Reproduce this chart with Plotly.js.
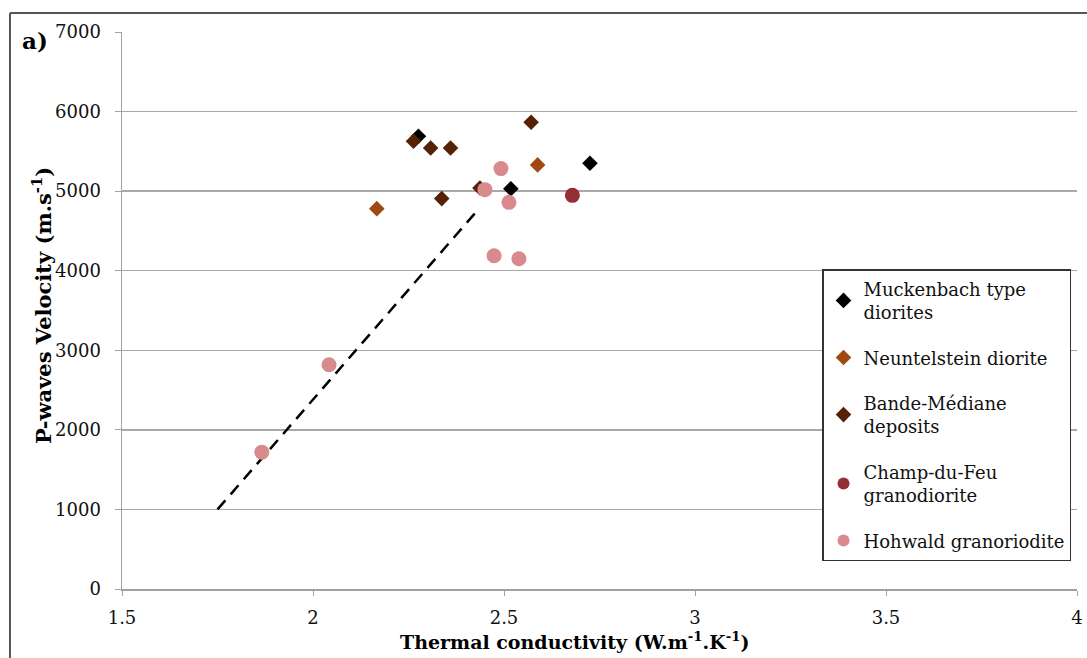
<!DOCTYPE html>
<html>
<head>
<meta charset="utf-8">
<script src="https://cdn.plot.ly/plotly-3.0.1.min.js"></script>
<style>html,body{margin:0;padding:0;background:#fff;}#chart{width:1087px;height:658px;}</style>
</head>
<body>
<div id="chart"></div>
<script>
// Data
const muckenbachX = [2.276, 2.518, 2.725];
const muckenbachY = [5690, 5030, 5350];
const neuntelsteinX = [2.167, 2.588];
const neuntelsteinY = [4780, 5330];
const bandeX = [2.263, 2.308, 2.360, 2.571, 2.337, 2.437];
const bandeY = [5627, 5543, 5543, 5866, 4906, 5040];
const champX = [2.679];
const champY = [4947];
const hohwaldX = [2.492, 2.450, 2.513, 2.474, 2.539, 2.042, 1.866];
const hohwaldY = [5283, 5019, 4859, 4189, 4151, 2818, 1720];
const trendX = [1.75, 2.43];
const trendY = [1000, 4755];

const serif = 'DejaVu Serif';

const traces = [
  {x: trendX, y: trendY, mode: 'lines', showlegend: false, hoverinfo: 'skip',
   line: {color: '#000', width: 2.5, dash: '12px,8px'}},
  {x: muckenbachX, y: muckenbachY, mode: 'markers', name: 'Muckenbach type<br>diorites', legendgroup: 'g1',
   marker: {symbol: 'diamond', size: 12, color: '#000000'}},
  {x: neuntelsteinX, y: neuntelsteinY, mode: 'markers', name: 'Neuntelstein diorite', legendgroup: 'g2',
   marker: {symbol: 'diamond', size: 12, color: '#9E4A12'}},
  {x: bandeX, y: bandeY, mode: 'markers', name: 'Bande-Médiane<br>deposits', legendgroup: 'g3',
   marker: {symbol: 'diamond', size: 12, color: '#552208'}},
  {x: champX, y: champY, mode: 'markers', name: 'Champ-du-Feu<br>granodiorite', legendgroup: 'g4',
   marker: {symbol: 'circle', size: 15, color: '#942F35'}},
  {x: hohwaldX, y: hohwaldY, mode: 'markers', name: 'Hohwald granoriodite', legendgroup: 'g5',
   marker: {symbol: 'circle', size: 15, color: '#D98A8C'}}
];

const layout = {
  width: 1087, height: 658,
  margin: {l: 122, r: 10, t: 32, b: 69},
  paper_bgcolor: '#fff', plot_bgcolor: '#fff',
  font: {family: serif, size: 18, color: '#111'},
  xaxis: {
    range: [1.5, 4], dtick: 0.5, tick0: 1.5, showgrid: false, zeroline: false,
    showline: true, linecolor: '#a0a0a0', linewidth: 1.5,
    ticks: 'outside', ticklen: 5, tickcolor: '#a0a0a0', ticklabelstandoff: 7,
    tickfont: {family: serif, size: 18, color: '#111'}
  },
  yaxis: {
    range: [0, 7000], dtick: 1000, showgrid: true, gridcolor: '#a8a8a8', gridwidth: 1.5,
    zeroline: false, showline: true, linecolor: '#a0a0a0', linewidth: 1.5,
    ticks: 'outside', ticklen: 6, tickcolor: '#a0a0a0', ticklabelstandoff: 10,
    tickfont: {family: serif, size: 18, color: '#111'}
  },
  legend: {
    x: 0.733, y: 0.5745, xanchor: 'left', yanchor: 'top',
    bgcolor: '#fff', bordercolor: '#333', borderwidth: 1.5,
    font: {family: serif, size: 18, color: '#111'},
    itemwidth: 30, itemsizing: 'constant', traceorder: 'grouped', tracegroupgap: 19
  },
  shapes: [
    {type: 'line', xref: 'paper', yref: 'paper', x0: -0.1173, x1: -0.1173, y0: -0.2, y1: 1.034,
     line: {color: '#555', width: 2}},
    {type: 'line', xref: 'paper', yref: 'paper', x0: -0.1173, x1: 1.02, y0: 1.034, y1: 1.034,
     line: {color: '#555', width: 2}}
  ],
  annotations: [
    {text: '<b>a)</b>', xref: 'paper', yref: 'paper', x: -0.107, y: 0.985,
     xanchor: 'left', yanchor: 'middle', showarrow: false,
     font: {family: serif, size: 23, color: '#000'}},
    {text: '<b>Thermal conductivity (W.m<sup>-1</sup>.K<sup>-1</sup>)</b>', xref: 'paper', yref: 'paper',
     x: 0.474, y: -0.093, xanchor: 'center', yanchor: 'middle', showarrow: false,
     font: {family: serif, size: 19, color: '#000'}},
    {text: '<b>P-waves Velocity (m.s<sup>-1</sup>)</b>', xref: 'paper', yref: 'paper', textangle: -90,
     x: -0.0838, y: 0.51, xanchor: 'center', yanchor: 'middle', showarrow: false,
     font: {family: serif, size: 21, color: '#000'}}
  ]
};

Plotly.newPlot('chart', traces, layout, {displayModeBar: false, staticPlot: true});
</script>
</body>
</html>
